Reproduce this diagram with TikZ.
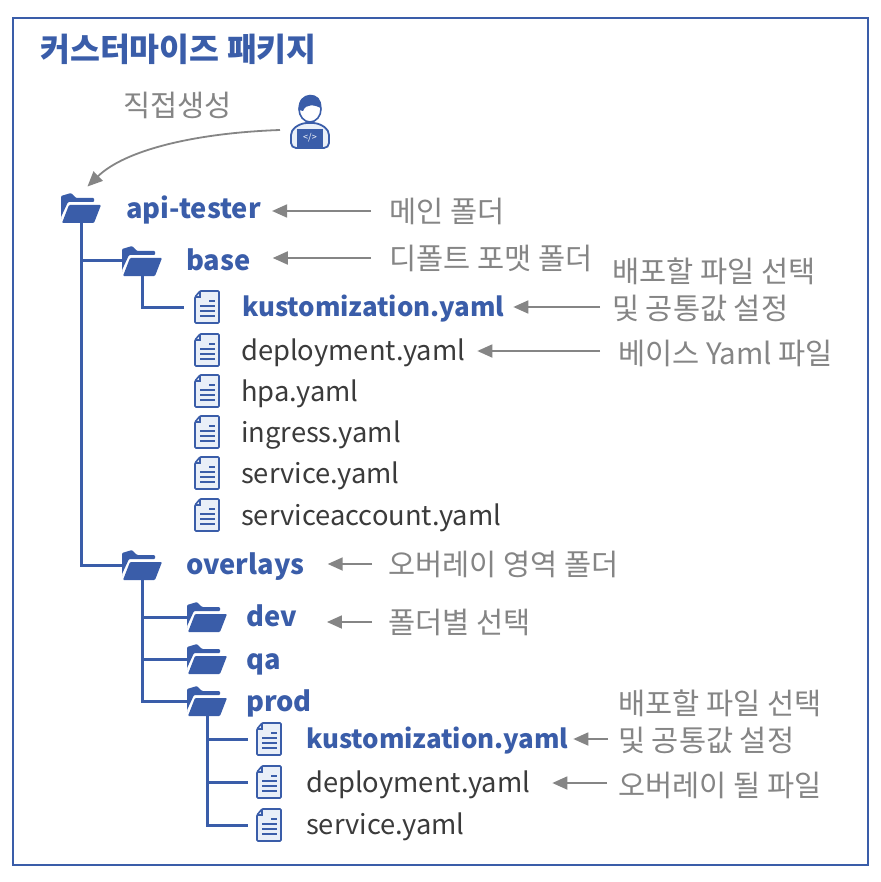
\documentclass[tikz,border=0pt]{standalone}
\usepackage{fontspec}
\setmainfont{Noto Sans CJK KR}
\usetikzlibrary{arrows.meta}
\definecolor{accent1}{HTML}{3A5DA9}
\definecolor{accent3}{HTML}{858585}
\definecolor{accent4}{HTML}{3B3B3B}
\definecolor{accent5}{HTML}{E9EFF8}
\tikzset{
  iconbox/.style={inner sep=0pt, minimum width=40pt, minimum height=30pt},
  foldername/.style={anchor=west, inner sep=0pt, text height=22pt, text depth=3pt, font=\fontsize{27.3}{30}\selectfont\bfseries, text=accent1},
  filename/.style={anchor=west, inner sep=0pt, text height=22pt, text depth=3pt, font=\fontsize{27.3}{30}\selectfont, text=accent4},
  keyname/.style={filename, font=\fontsize{25.9}{30}\selectfont\bfseries, text=accent1},
  notetext/.style={anchor=west, inner sep=0pt, text height=24pt, text depth=1pt, font=\fontsize{29.5}{30}\selectfont, text=accent3},
  twonote/.style={anchor=west, inner sep=0pt, align=left, font=\fontsize{29.5}{37}\selectfont, text=accent3},
  notearrow/.style={draw=accent3, line width=1.8pt, -{Triangle[length=15pt,width=13pt]}},
  treeline/.style={draw=accent1, line width=3pt},
  foldericon/.pic={
    \fill[accent1, rounded corners=1pt] (-20,12) -- (-20,-12) -- (-10,-15) -- (-5,-10) -- (13,-10) -- (13,-6) -- (-13,-6) -- (-20,9) -- cycle;
    \fill[accent1, rounded corners=1pt] (-12,-3) -- (20,-3) -- (13,15) -- (-19,15) -- cycle;
  },
  fileicon/.pic={
    \draw[accent1, fill=accent5, line width=1.6pt, rounded corners=1pt] (-7,-16) -- (12,-16) -- (12,16) -- (-12,16) -- (-12,-10) -- cycle;
    \draw[accent1, line width=1.4pt] (-7,-16) -- (-7,-10) -- (-12,-10);
    \draw[accent1, line width=1.6pt] (-7,-1) -- (8,-1) (-7,4) -- (8,4) (-7,9) -- (8,9);
    \draw[accent1, line width=1.4pt] (2,-6) -- (8,-6);
  },
}
\begin{document}
\begin{tikzpicture}[x=1pt,y=-1pt]
\useasboundingbox (0,0) rectangle (880,882);
\fill[white] (0,0) rectangle (880,882);
\draw[accent1, line width=2pt] (13,18) rectangle (868,865);
\node[anchor=west, inner sep=0pt, font=\fontsize{32.5}{36}\selectfont\bfseries, text=accent1] (titleText) at (40,49) {커스터마이즈 패키지};
\node[notetext] (directNote) at (123,105) {직접생성};

% person at the laptop
\node[inner sep=0pt, minimum width=40pt, minimum height=54pt] (personIcon) at (310,122) {};
\draw[accent1, fill=white, line width=1.6pt] (310,109) ellipse (11 and 13);
\fill[accent1] (299,110) .. controls (296,90) and (324,90) .. (321,108) .. controls (315,105) and (306,103) .. (303,111) -- cycle;
\draw[accent1, fill=accent5, line width=1.8pt, rounded corners=5pt] (291,148) -- (291,130) -- (302,123) -- (318,123) -- (329,130) -- (329,148) -- cycle;
\fill[accent1] (297,129) rectangle (323,147);
\node[inner sep=0pt, text=white, font=\fontsize{9}{10}\selectfont] (codeTag) at (310,138) {</>};

% folders
\node[iconbox] (apiIcon) at (81,208) {};
\pic at (apiIcon) {foldericon};
\node[foldername] (apiName) at (126,209) {api-tester};
\node[iconbox] (baseIcon) at (142,261) {};
\pic at (baseIcon) {foldericon};
\node[foldername] (baseName) at (186,261) {base};
\node[iconbox] (overlaysIcon) at (142,565) {};
\pic at (overlaysIcon) {foldericon};
\node[foldername] (overlaysName) at (186,565) {overlays};
\node[iconbox] (devIcon) at (207,617) {};
\pic at (devIcon) {foldericon};
\node[foldername] (devName) at (246,617) {dev};
\node[iconbox] (qaIcon) at (207,659) {};
\pic at (qaIcon) {foldericon};
\node[foldername] (qaName) at (246,660) {qa};
\node[iconbox] (prodIcon) at (207,701) {};
\pic at (prodIcon) {foldericon};
\node[foldername] (prodName) at (246,702) {prod};

% files under base
\node[iconbox, minimum width=26pt, minimum height=32pt] (kustIcon) at (207,307) {};
\pic at (kustIcon) {fileicon};
\node[keyname] (kustName) at (242,307) {kustomization.yaml};
\node[iconbox, minimum width=26pt, minimum height=32pt] (deployIcon) at (207,350) {};
\pic at (deployIcon) {fileicon};
\node[filename] (deployName) at (241,351) {deployment.yaml};
\node[iconbox, minimum width=26pt, minimum height=32pt] (hpaIcon) at (207,391) {};
\pic at (hpaIcon) {fileicon};
\node[filename] (hpaName) at (241,392) {hpa.yaml};
\node[iconbox, minimum width=26pt, minimum height=32pt] (ingressIcon) at (207,432) {};
\pic at (ingressIcon) {fileicon};
\node[filename] (ingressName) at (241,433) {ingress.yaml};
\node[iconbox, minimum width=26pt, minimum height=32pt] (serviceIcon) at (207,473) {};
\pic at (serviceIcon) {fileicon};
\node[filename] (serviceName) at (241,474) {service.yaml};
\node[iconbox, minimum width=26pt, minimum height=32pt] (accountIcon) at (207,515) {};
\pic at (accountIcon) {fileicon};
\node[filename] (accountName) at (241,516) {serviceaccount.yaml};

% files under prod
\node[iconbox, minimum width=26pt, minimum height=32pt] (prodKustIcon) at (269,739) {};
\pic at (prodKustIcon) {fileicon};
\node[keyname] (prodKustName) at (306,739) {kustomization.yaml};
\node[iconbox, minimum width=26pt, minimum height=32pt] (prodDeployIcon) at (269,782) {};
\pic at (prodDeployIcon) {fileicon};
\node[filename] (prodDeployName) at (306,783) {deployment.yaml};
\node[iconbox, minimum width=26pt, minimum height=32pt] (prodServiceIcon) at (269,825) {};
\pic at (prodServiceIcon) {fileicon};
\node[filename] (prodServiceName) at (306,825) {service.yaml};

% notes
\node[notetext] (mainNote) at (389,211) {메인 폴더};
\node[notetext] (baseNote) at (389,258) {디폴트 포맷 폴더};
\node[twonote] (kustNote) at (612,290) {배포할 파일 선택\\및 공통값 설정};
\node[notetext] (deployNote) at (618,353) {베이스 Yaml 파일};
\node[notetext] (overlaysNote) at (388,564) {오버레이 영역 폴더};
\node[notetext] (devNote) at (388,622) {폴더별 선택};
\node[twonote] (prodKustNote) at (618,722) {배포할 파일 선택\\및 공통값 설정};
\node[notetext] (prodDeployNote) at (618,785) {오버레이 될 파일};

% tree lines
\draw[treeline] ([yshift=13pt]apiIcon.south) -- (apiIcon.south |- overlaysIcon.west) -- ([xshift=3pt]overlaysIcon.west);
\draw[treeline] (apiIcon.south |- baseIcon.west) -- ([xshift=3pt]baseIcon.west);
\draw[treeline] ([yshift=14pt]baseIcon.south) -- (baseIcon.south |- kustIcon.west) -- ([xshift=-10pt]kustIcon.west);
\draw[treeline] ([yshift=10pt]overlaysIcon.south) -- (overlaysIcon.south |- prodIcon.west) -- ([xshift=3pt]prodIcon.west);
\draw[treeline] (overlaysIcon.south |- devIcon.west) -- ([xshift=3pt]devIcon.west);
\draw[treeline] (overlaysIcon.south |- qaIcon.west) -- ([xshift=3pt]qaIcon.west);
\draw[treeline] ([yshift=10pt]prodIcon.south) -- (prodIcon.south |- prodServiceIcon.west) -- ([xshift=-8pt]prodServiceIcon.west);
\draw[treeline] (prodIcon.south |- prodKustIcon.west) -- ([xshift=-8pt]prodKustIcon.west);
\draw[treeline] (prodIcon.south |- prodDeployIcon.west) -- ([xshift=-8pt]prodDeployIcon.west);

% note arrows
\coordinate (directStart) at (280,130);
\draw[notearrow, shorten >=9pt] (directStart) .. controls (195,133) and (125,150) .. (apiIcon.north);
\draw[notearrow, shorten <=18pt, shorten >=11pt] (mainNote.west) -- (apiName.east |- mainNote.west);
\draw[notearrow, shorten <=18pt, shorten >=22pt] (baseNote.west) -- (baseName.east |- baseNote.west);
\draw[notearrow, shorten <=12pt, shorten >=9pt] (kustNote.west |- kustName.east) -- (kustName.east);
\draw[notearrow, shorten <=18pt, shorten >=12pt] (deployNote.west |- deployName.east) -- (deployName.east);
\draw[notearrow, shorten <=16pt, shorten >=23pt] (overlaysNote.west) -- (overlaysName.east |- overlaysNote.west);
\draw[notearrow, shorten <=16pt, shorten >=30pt] (devNote.west) -- (devName.east |- devNote.west);
\draw[notearrow, shorten <=10pt, shorten >=5pt] (prodKustNote.west |- prodKustName.east) -- (prodKustName.east);
\draw[notearrow, shorten <=11pt, shorten >=22pt] (prodDeployNote.west |- prodDeployName.east) -- (prodDeployName.east);
\end{tikzpicture}
\end{document}
